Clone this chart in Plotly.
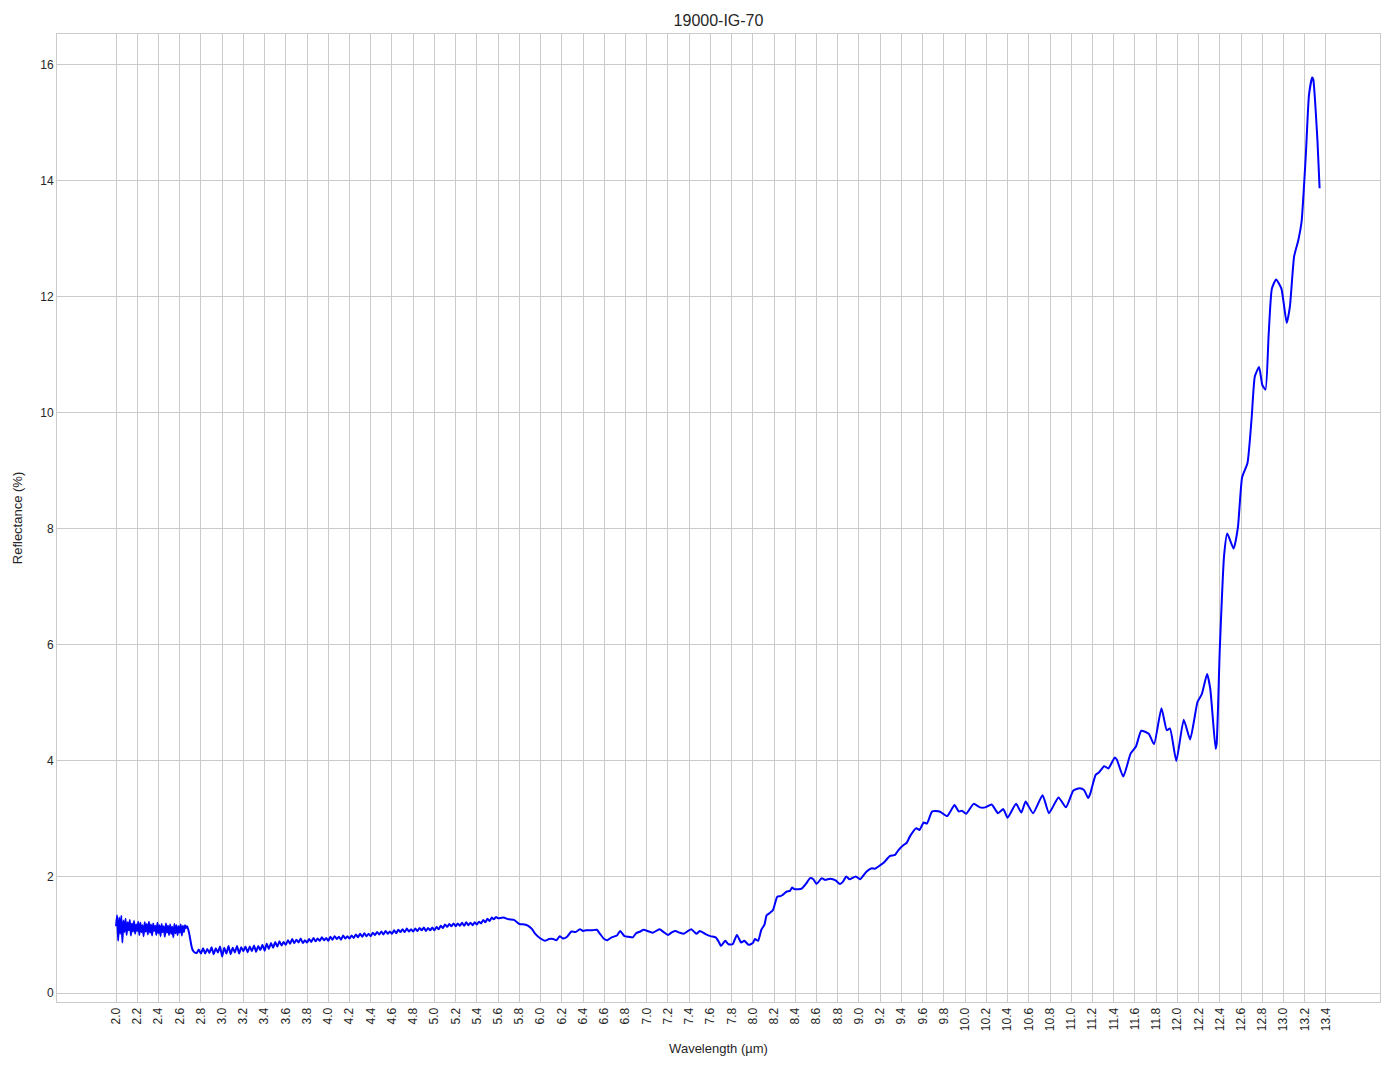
import numpy as np
import plotly.graph_objects as go

# ---- data ----
# noisy start, 2.00 .. 2.66 step 0.01
noisy_start = 2.00
noisy_step = 0.01
noisy_vals = [1.15, 1.34, 0.90, 1.30, 1.02, 1.33, 0.87, 1.25, 1.05, 1.28,
              1.00, 1.22, 1.08, 1.26, 0.99, 1.20, 1.06, 1.24, 1.02, 1.18,
              1.07, 1.23, 1.00, 1.21, 1.05, 1.17, 0.98, 1.22, 1.06, 1.19,
              1.01, 1.23, 1.04, 1.18, 0.99, 1.20, 1.07, 1.16, 1.00, 1.21,
              1.03, 1.17, 0.98, 1.19, 1.05, 1.15, 0.97, 1.20, 1.04, 1.16,
              1.00, 1.18, 1.02, 1.14, 0.96, 1.19, 1.03, 1.17, 1.00, 1.15,
              1.04, 1.18, 0.99, 1.16, 1.05, 1.17, 1.12]

# drop near 2.7 um
drop_wl = [2.67, 2.68, 2.69, 2.70, 2.71, 2.72, 2.73, 2.74]
drop_vals = [1.15, 1.10, 1.02, 0.92, 0.82, 0.75, 0.72, 0.70]

# slowly rising noisy section, 2.76 .. 5.58 step 0.02
mid_start = 2.76
mid_step = 0.02
mid_vals = [0.69, 0.75,
            0.68, 0.77, 0.68, 0.76, 0.69, 0.79, 0.67, 0.77, 0.70, 0.80,
            0.63, 0.78, 0.68, 0.81, 0.67, 0.78, 0.70, 0.81, 0.68, 0.79,
            0.72, 0.80, 0.70, 0.80, 0.72, 0.82, 0.71, 0.81, 0.74, 0.83,
            0.73, 0.85, 0.76, 0.86, 0.78, 0.88, 0.80, 0.89, 0.82, 0.88,
            0.83, 0.91, 0.85, 0.93, 0.86, 0.92, 0.87, 0.94, 0.86, 0.91,
            0.87, 0.93, 0.88, 0.95, 0.89, 0.94, 0.90, 0.96, 0.91, 0.95,
            0.90, 0.97, 0.92, 0.98, 0.93, 0.97, 0.92, 0.99, 0.94, 0.98,
            0.94, 0.99, 0.95, 1.01, 0.96, 1.02, 0.97, 1.03, 0.98, 1.02,
            0.98, 1.04, 1.00, 1.05, 1.01, 1.06, 1.01, 1.07, 1.02, 1.06,
            1.02, 1.08, 1.03, 1.09, 1.05, 1.10, 1.05, 1.11, 1.06, 1.10,
            1.06, 1.11, 1.07, 1.12, 1.08, 1.13, 1.07, 1.12, 1.08, 1.13,
            1.08, 1.14, 1.10, 1.16, 1.12, 1.18, 1.14, 1.19, 1.15, 1.20,
            1.15, 1.20, 1.16, 1.21, 1.16, 1.22, 1.17, 1.21, 1.17, 1.22,
            1.18, 1.23, 1.20, 1.26, 1.22, 1.28, 1.24, 1.30, 1.27, 1.31]

# smoother long-wave part
tail_wl = [5.60, 5.65, 5.70, 5.75, 5.80, 5.85, 5.88, 5.92, 5.95, 6.00,
           6.04, 6.08, 6.12, 6.15, 6.18, 6.21, 6.25, 6.29, 6.33, 6.37,
           6.40, 6.43, 6.48, 6.53, 6.56, 6.60, 6.63, 6.67, 6.72, 6.75,
           6.79, 6.83, 6.87, 6.90, 6.94, 6.97, 7.02, 7.06, 7.12, 7.16,
           7.20, 7.24, 7.27, 7.31, 7.35, 7.39, 7.42, 7.45, 7.47, 7.50,
           7.55, 7.60, 7.65, 7.68, 7.70, 7.74, 7.77, 7.81, 7.85, 7.89,
           7.92, 7.96, 8.00, 8.02, 8.05, 8.08, 8.11, 8.13, 8.16, 8.19,
           8.23, 8.26, 8.28, 8.32, 8.35, 8.37, 8.39, 8.43, 8.46, 8.50,
           8.54, 8.57, 8.60, 8.65, 8.68, 8.73, 8.78, 8.82, 8.85, 8.88,
           8.91, 8.97, 9.01, 9.07, 9.12, 9.15, 9.19, 9.24, 9.29, 9.34,
           9.37, 9.42, 9.45, 9.48, 9.54, 9.57, 9.61, 9.64, 9.69, 9.76,
           9.83, 9.90, 9.94, 9.97, 10.01, 10.08, 10.14, 10.19, 10.25, 10.31,
           10.36, 10.40, 10.48, 10.53, 10.57, 10.64, 10.73, 10.79, 10.88, 10.95,
           11.02, 11.08, 11.12, 11.16, 11.18, 11.23, 11.26, 11.31, 11.35, 11.41,
           11.43, 11.49, 11.56, 11.61, 11.66, 11.73, 11.78, 11.85, 11.90, 11.93,
           11.99, 12.06, 12.12, 12.19, 12.23, 12.28, 12.31, 12.36, 12.37, 12.40,
           12.44, 12.47, 12.53, 12.57, 12.61, 12.66, 12.70, 12.73, 12.77, 12.80,
           12.83, 12.86, 12.89, 12.93, 12.98, 13.03, 13.06, 13.10, 13.14, 13.17,
           13.21, 13.24, 13.27, 13.28, 13.32, 13.34]
tail_vals = [1.29, 1.30, 1.27, 1.26, 1.19, 1.18, 1.16, 1.10, 1.02, 0.94,
             0.90, 0.93, 0.93, 0.91, 0.98, 0.94, 0.97, 1.06, 1.05, 1.10,
             1.07, 1.08, 1.08, 1.09, 1.02, 0.93, 0.91, 0.96, 0.99, 1.07,
             0.98, 0.97, 0.96, 1.03, 1.06, 1.09, 1.06, 1.04, 1.10, 1.05,
             1.00, 1.05, 1.07, 1.04, 1.02, 1.07, 1.10, 1.05, 1.02, 1.07,
             1.02, 0.98, 0.96, 0.88, 0.81, 0.90, 0.84, 0.84, 1.00, 0.87,
             0.90, 0.83, 0.86, 0.93, 0.90, 1.09, 1.18, 1.34, 1.38, 1.43,
             1.66, 1.67, 1.69, 1.75, 1.76, 1.82, 1.79, 1.79, 1.80, 1.88,
             1.98, 1.96, 1.88, 1.98, 1.95, 1.97, 1.94, 1.88, 1.92, 2.01,
             1.96, 2.01, 1.96, 2.09, 2.15, 2.14, 2.19, 2.26, 2.36, 2.38,
             2.46, 2.55, 2.59, 2.70, 2.84, 2.81, 2.94, 2.92, 3.13, 3.13,
             3.05, 3.24, 3.13, 3.14, 3.09, 3.26, 3.20, 3.20, 3.25, 3.10,
             3.17, 3.02, 3.26, 3.11, 3.30, 3.10, 3.41, 3.10, 3.37, 3.20,
             3.49, 3.53, 3.50, 3.36, 3.44, 3.76, 3.80, 3.91, 3.87, 4.06,
             4.02, 3.73, 4.13, 4.25, 4.52, 4.47, 4.29, 4.91, 4.53, 4.56,
             4.00, 4.71, 4.37, 5.02, 5.15, 5.50, 5.24, 4.21, 4.30, 5.95,
             7.54, 7.92, 7.66, 8.02, 8.89, 9.13, 9.92, 10.63, 10.79, 10.48,
             10.40, 11.35, 12.14, 12.30, 12.14, 11.55, 11.83, 12.70, 12.98, 13.29,
             14.44, 15.48, 15.78, 15.75, 14.68, 13.87]

x_ticks = [round(2.0 + 0.2 * i, 1) for i in range(58)]
x_ticklabels = [f"{v:.1f}" for v in x_ticks]
y_ticks = [0, 2, 4, 6, 8, 10, 12, 14, 16]

# ---- assemble ----
noisy_wl = [round(noisy_start + noisy_step * i, 3) for i in range(len(noisy_vals))]
mid_wl = [round(mid_start + mid_step * i, 3) for i in range(len(mid_vals))]
wl = noisy_wl + drop_wl + mid_wl + tail_wl
refl = noisy_vals + drop_vals + mid_vals + tail_vals

GRID = "#cbcbcb"
TXT = "#262626"
FONT = "Liberation Sans, Arial, sans-serif"

# the page body has an 8px default margin; compensate so the plot lands in place
W, H = 1386, 1061

fig = go.Figure()
fig.add_trace(go.Scatter(x=wl, y=refl, mode="lines",
                         line=dict(color="#0000ff", width=2, shape="spline", smoothing=0.5),
                         showlegend=False, hoverinfo="x+y"))

fig.update_layout(
    width=W, height=H,
    margin=dict(l=49, r=14, t=26, b=67, autoexpand=False),
    paper_bgcolor="white", plot_bgcolor="white",
    font=dict(family=FONT, color=TXT, size=12),
    title=dict(text="19000-IG-70", x=(49 + (W - 14 - 49) / 2) / W, xanchor="center",
               y=1 - 12 / H, yanchor="middle",
               font=dict(size=16, color=TXT, family=FONT)),
    xaxis=dict(
        range=[1.444, 13.909], tickmode="array", tickvals=x_ticks, ticktext=x_ticklabels,
        tickangle=-90, showgrid=True, gridcolor=GRID, gridwidth=1, zeroline=False,
        showline=True, linecolor=GRID, linewidth=1, mirror=True, ticks="", ticklen=0,
        tickfont=dict(size=12, color=TXT), automargin=False,
        title=dict(text="Wavelength (µm)", font=dict(size=13, color=TXT), standoff=13),
    ),
    yaxis=dict(
        range=[-0.155, 16.53], tickmode="array", tickvals=y_ticks, ticktext=[str(v) for v in y_ticks],
        showgrid=True, gridcolor=GRID, gridwidth=1, zeroline=False,
        showline=True, linecolor=GRID, linewidth=1, mirror=True, ticks="", ticklen=0,
        tickfont=dict(size=12, color=TXT), automargin=False,
        title=dict(text="Reflectance (%)", font=dict(size=13, color=TXT), standoff=14),
    ),
)

fig.write_html("out.html")
